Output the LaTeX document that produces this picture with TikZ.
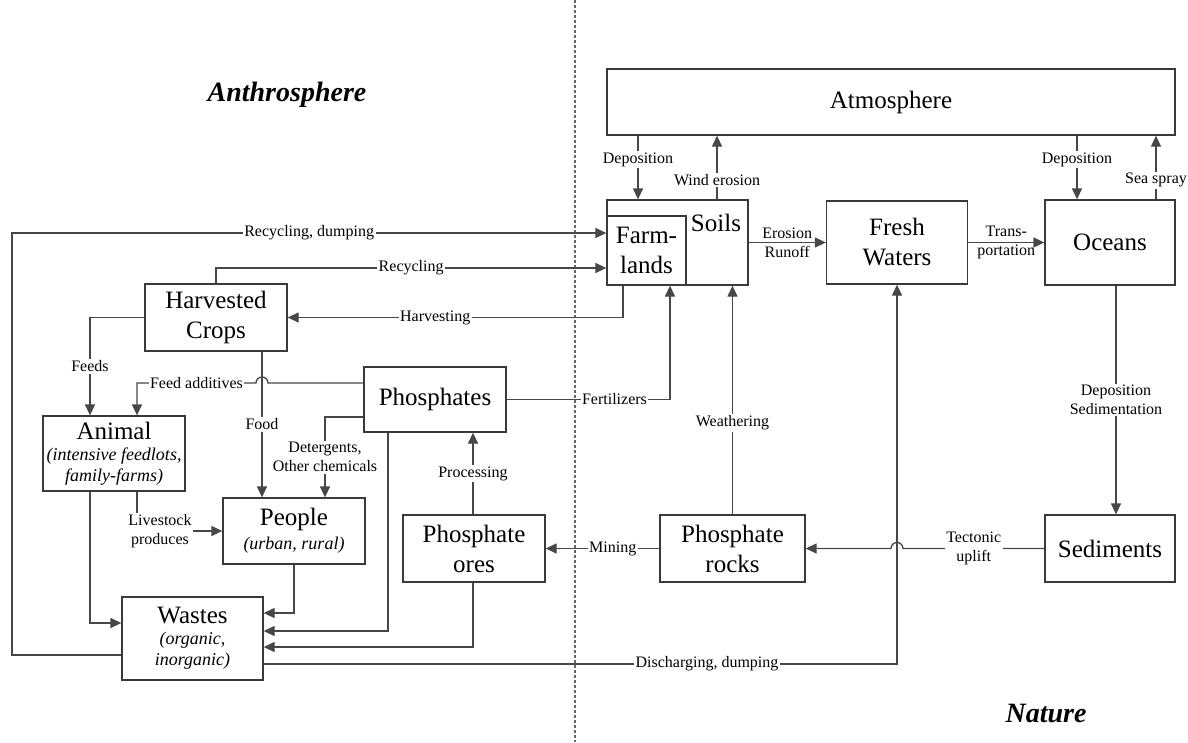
\documentclass[tikz,border=0pt]{standalone}
\usepackage{fontspec}
\setmainfont{Liberation Serif}
\usetikzlibrary{arrows.meta, positioning}
\definecolor{lineg}{HTML}{474747}
\definecolor{boxg}{HTML}{3A3A3A}
\newcommand{\subtxt}[1]{{\fontsize{18}{21}\selectfont\itshape #1}}
\tikzset{
  % reservoir box
  box/.style={draw=boxg, line width=1.3pt, fill=white, align=center,
    font=\fontsize{25}{30}\selectfont, inner sep=2pt},
  % flow with arrow head
  flow/.style={draw=lineg, line width=1.3pt,
    -{Triangle[length=11pt, width=10pt]}},
  % flow without arrow head
  conn/.style={draw=lineg, line width=1.3pt},
  % small text on a flow
  lbl/.style={font=\fontsize{16}{19}\selectfont, fill=white, align=center,
    inner sep=1.5pt},
  % boundary between the two spheres
  divider/.style={draw=black!60, line width=2pt, dash pattern=on 2.5pt off 2.5pt},
  % sphere titles
  title/.style={font=\fontsize{28}{32}\selectfont\bfseries\itshape},
}
\begin{document}
\begin{tikzpicture}[x=1pt, y=-1pt]
  \useasboundingbox (0,0) rectangle (1188,742);
  \draw[divider] (575,0) -- (575,742);
  \node[title] (anth) at (287,95) {Anthrosphere};
  \node[title] (nat) at (1046,713) {Nature};

  % nature
  \node[box, minimum width=568pt, minimum height=66pt] (atm) at (891,102) {Atmosphere};
  \node[box, minimum width=141pt, minimum height=85pt] (soils) at (677.5,242.5) {};
  \node[font=\fontsize{25}{30}\selectfont] (soilstxt) at (716,223) {Soils};
  \node[box, minimum width=79pt, minimum height=69pt, inner sep=0pt] (farm) at (646.5,250.5) {Farm-\\lands};
  \node[box, minimum width=141pt, minimum height=83pt] (fresh) at (897,242.5) {Fresh\\Waters};
  \node[box, minimum width=130pt, minimum height=85pt] (ocean) at (1110,242.5) {Oceans};
  \node[box, minimum width=130pt, minimum height=67pt] (sed) at (1110,548.5) {Sediments};
  \node[box, minimum width=145pt, minimum height=67pt] (rocks) at (732.5,548.5) {Phosphate\\rocks};

  % anthrosphere
  \node[box, minimum width=142pt, minimum height=67pt] (ores) at (474,548.5) {Phosphate\\ores};
  \node[box, minimum width=142pt, minimum height=65pt] (phos) at (435,399.5) {Phosphates};
  \node[box, minimum width=142pt, minimum height=67pt] (crops) at (216,317.5) {Harvested\\Crops};
  \node[box, minimum width=142pt, minimum height=75pt] (animal) at (114,453.5)
    {Animal\\[-9pt]\subtxt{(intensive feedlots,}\\[-9pt]\subtxt{family-farms)}};
  \node[box, minimum width=142pt, minimum height=66pt] (people) at (294,531)
    {People\\[-6pt]\subtxt{(urban, rural)}};
  \node[box, minimum width=141pt, minimum height=83pt] (wastes) at (192.5,638.5)
    {Wastes\\[-9pt]\subtxt{(organic,}\\[-9pt]\subtxt{inorganic)}};
  \node[lbl] (live) at (160,531) {Livestock\\produces};

  % atmosphere exchanges
  \draw[flow] (atm.south -| 638,0) -- node[lbl, pos=0.38] {Deposition} (soils.north -| 638,0);
  \draw[flow] (soils.north -| 717,0) -- node[lbl, pos=0.3] {Wind erosion} (atm.south -| 717,0);
  \draw[flow] (atm.south -| 1077,0) -- node[lbl, pos=0.38] {Deposition} (ocean.north -| 1077,0);
  \draw[flow] (ocean.north -| 1156,0) -- node[lbl, pos=0.3] {Sea spray} (atm.south -| 1156,0);

  % natural cycle
  \draw[flow] (soils.east) -- node[lbl, fill=none] {Erosion\\Runoff} (fresh.west);
  \draw[flow] (fresh.east) -- node[lbl, fill=none] {Trans-\\portation} (ocean.west);
  \draw[flow] (ocean.south -| 1116,0) -- node[lbl] {Deposition\\Sedimentation} (sed.north -| 1116,0);
  \draw[flow] (sed.west) -- node[lbl] {Tectonic\\uplift} (903,548.5)
    arc[start angle=0, end angle=180, radius=6pt] -- (rocks.east);
  \draw[flow] (rocks.north) -- node[lbl, pos=0.4] {Weathering} (rocks.north |- soils.south);
  \draw[flow] (rocks.west) -- node[lbl, pos=0.41] {Mining} (ores.east);

  % anthropogenic flows
  \draw[flow] (ores.north -| 473,0) -- node[lbl] {Processing} (phos.south -| 473,0);
  \draw[flow] (phos.east) -| node[lbl, pos=0.33] {Fertilizers} (farm.south -| 670,0);
  \draw[flow] (farm.south -| 623,0) |- node[lbl, pos=0.78] {Harvesting} (crops.east);
  \draw[flow] (crops.north) |- node[lbl, pos=0.75] {Recycling} (farm.west |- 0,268);
  \draw[flow] (wastes.west |- 0,655) -| (12,233) -- node[lbl] {Recycling, dumping} (farm.west |- 0,233);
  \draw[flow] (crops.west) -| node[lbl, pos=0.75] {Feeds} (animal.north -| 90,0);
  \draw[flow] (phos.west |- 0,383) -- (268,383) arc[start angle=0, end angle=180, radius=6pt]
    -- node[lbl] {Feed additives} (137,383) -- (animal.north -| 137,0);
  \draw[flow] (crops.south -| 262,0) -- node[lbl] {Food} (people.north -| 262,0);
  \draw[flow] (phos.west |- 0,417) -| node[lbl, pos=0.75] {Detergents,\\Other chemicals} (people.north -| 325,0);
  \draw[conn] (animal.south -| 137,0) -- (live.north -| 137,0);
  \draw[flow] (live.east) -- (people.west);

  % to wastes
  \draw[flow] (people.south) |- (wastes.east |- 0,613);
  \draw[flow] (animal.south -| 90,0) |- (wastes.west |- 0,623);
  \draw[flow] (phos.south -| 388,0) |- (wastes.east |- 0,631);
  \draw[flow] (ores.south -| 473,0) |- (wastes.east |- 0,647);
  \draw[flow] (wastes.east |- 0,664) -| node[lbl, pos=0.35] {Discharging, dumping} (fresh.south);
\end{tikzpicture}
\end{document}
